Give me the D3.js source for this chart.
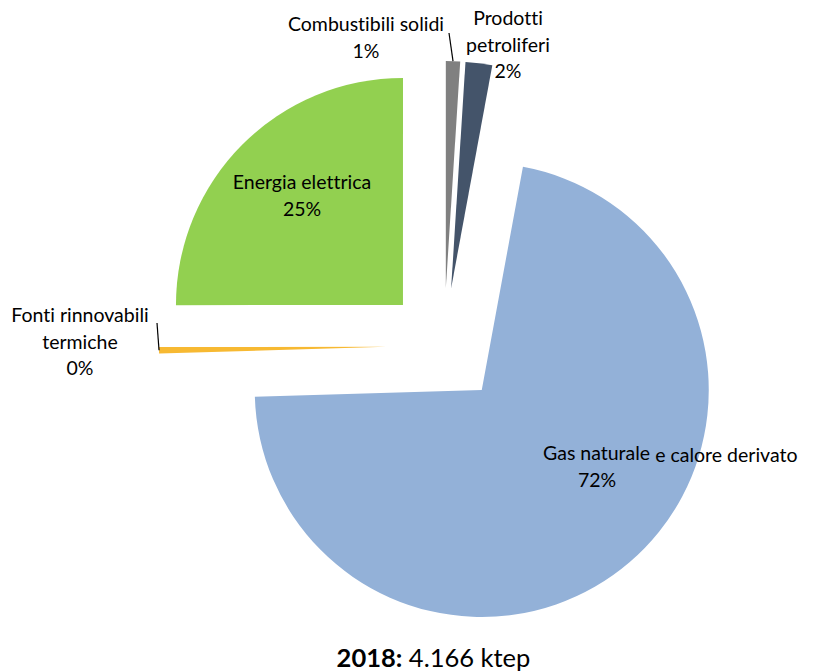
<!DOCTYPE html>
<html>
<head>
<meta charset="utf-8">
<script src="https://cdn.jsdelivr.net/npm/d3@7"></script>
<style>
    body { margin: 0; background: #fff; }
    svg { display: block; }
    text { font-family: Lato, "Open Sans", sans-serif; fill: #000; font-variant-ligatures: none; }
</style>
</head>
<body>
<svg id="pie"></svg>
<script>
// consumi finali per fonte, 2018 (ktep)
const categories = ['Combustibili solidi', 'Prodotti petroliferi', 'Gas naturale e calore derivato', 'Fonti rinnovabili termiche', 'Energia elettrica'];
const values = [42, 79, 2984, 19, 1042];
const percentLabels = ['1%', '2%', '72%', '0%', '25%'];
const colors = ['#808080', '#44546a', '#93b1d8', '#f7b932', '#92d050'];
const titleYear = '2018:';
const titleTotal = ' 4.166 ktep';

const width = 813, height = 672;
const center = {x: 444, y: 346};
const radius = 227;
const explode = 58;
const fontSize = 19.5;

// label lines, anchor and leader start (layout only)
const labelLayout = [
    {lines: ['Combustibili solidi', '1%'], x: 366, y: 31, anchor: 'middle', leader: [449, 33]},
    {lines: ['Prodotti', 'petroliferi', '2%'], x: 508, y: 25, anchor: 'middle'},
    null,
    {lines: ['Fonti rinnovabili', 'termiche', '0%'], x: 80, y: 322, anchor: 'middle', leader: [157, 323]},
    {lines: ['Energia elettrica', '25%'], x: 302, y: 189, anchor: 'middle'}
];
const lineHeight = 26.5;

const svg = d3.select('#pie')
    .attr('width', width)
    .attr('height', height);

const pie = d3.pie()
    .sort(null)
    .value(d => d);

const arc = d3.arc()
    .innerRadius(0)
    .outerRadius(radius);

const slices = pie(values).map((s, i) => {
    const mid = (s.startAngle + s.endAngle) / 2;
    s.tip = [center.x + explode * Math.sin(mid), center.y - explode * Math.cos(mid)];
    s.outer = [s.tip[0] + radius * Math.sin(mid), s.tip[1] - radius * Math.cos(mid)];
    s.index = i;
    return s;
});

svg.append('g')
    .selectAll('path')
    .data(slices)
    .enter()
    .append('path')
    .attr('transform', d => `translate(${d.tip[0]}, ${d.tip[1]})`)
    .attr('d', arc)
    .attr('fill', (d, i) => colors[i]);

// leader lines
slices.forEach((s, i) => {
    const l = labelLayout[i];
    if (l && l.leader) {
        svg.append('line')
            .attr('x1', l.leader[0])
            .attr('y1', l.leader[1])
            .attr('x2', s.outer[0])
            .attr('y2', s.outer[1])
            .attr('stroke', '#000')
            .attr('stroke-width', 1.2);
    }
});

labelLayout.forEach((l, i) => {
    if (!l) return;
    const t = svg.append('text')
        .attr('text-anchor', l.anchor)
        .attr('font-size', fontSize);
    l.lines.forEach((line, j) => {
        t.append('tspan')
            .attr('x', l.x)
            .attr('y', l.y + j * lineHeight)
            .text(line);
    });
});

// gas label (second half of the name sits slightly lower, like the original)
const gasName = categories[2].split(' e ');
const gas = svg.append('text')
    .attr('x', 543)
    .attr('y', 460)
    .attr('font-size', fontSize);
gas.append('tspan').text(gasName[0]);
gas.append('tspan').attr('dx', 5).attr('dy', 2).text('e ' + gasName[1]);
svg.append('text')
    .attr('x', 597)
    .attr('y', 487)
    .attr('text-anchor', 'middle')
    .attr('font-size', fontSize)
    .text(percentLabels[2]);

// title
const title = svg.append('text')
    .attr('x', width / 2 + 27)
    .attr('y', 667)
    .attr('text-anchor', 'middle')
    .attr('font-size', 25.5);
title.append('tspan').attr('font-weight', 'bold').text(titleYear);
title.append('tspan').text(titleTotal);
</script>
</body>
</html>
